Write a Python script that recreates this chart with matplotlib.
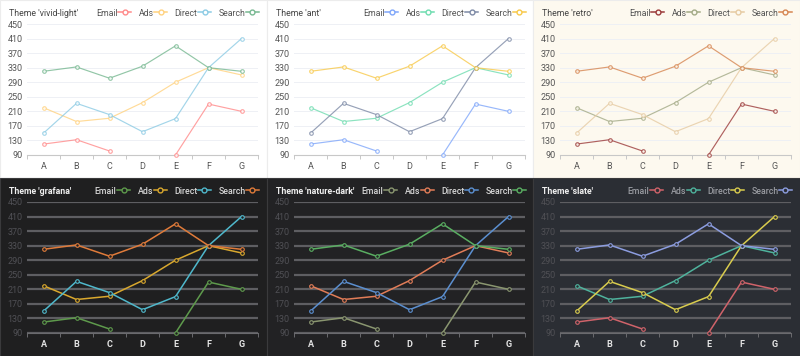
import numpy as np
import matplotlib
matplotlib.use("Agg")
import matplotlib.pyplot as plt
from matplotlib.patches import Rectangle

plt.rcParams['font.family'] = ['Roboto', 'DejaVu Sans']

categories = ['A', 'B', 'C', 'D', 'E', 'F', 'G']
series_names = ['Email', 'Ads', 'Direct', 'Search']
email = [120, 132, 101, np.nan, 90, 230, 210]
ads = [220, 182, 191, 234, 290, 330, 310]
direct = [150, 232, 201, 154, 190, 330, 410]
search = [320, 332, 301, 334, 390, 330, 320]
yticks = [90, 130, 170, 210, 250, 290, 330, 370, 410, 450]

themes = [
    dict(name='vivid-light', bg='#ffffff', dark=False,
         colors=['#ff8a8a', '#ffd27f', '#8ccbe4', '#77b891']),
    dict(name='ant', bg='#ffffff', dark=False,
         colors=['#7fa6fa', '#6fdcb0', '#7d8aa6', '#f8c94a']),
    dict(name='retro', bg='#fdf9ef', dark=False,
         colors=['#9c3b3b', '#a3aa86', '#e6cba3', '#d68652']),
    dict(name='grafana', bg='#1f1f20', dark=True,
         colors=['#5e9a4c', '#d9a82e', '#4fb8cc', '#e07b3a']),
    dict(name='nature-dark', bg='#222224', dark=True,
         colors=['#8a9670', '#e27d58', '#5b8fd0', '#5aae62']),
    dict(name='slate', bg='#2b2e34', dark=True,
         colors=['#d0636a', '#4fb39d', '#d9cc4e', '#8c9de0']),
]

W, H = 800, 356
fig = plt.figure(figsize=(W / 100, H / 100), dpi=100)

col_x = [0, 267, 533]
col_w = [267, 266, 267]
row_y = [0, 178]

data = [email, ads, direct, search]
x = np.arange(len(categories))

for i, th in enumerate(themes):
    r, c = divmod(i, 3)
    px, py = col_x[c], row_y[r]
    dark = th['dark']
    # panel background
    fig.patches.append(Rectangle((px / W, 1 - (py + 178) / H), col_w[c] / W, 178 / H,
                                 transform=fig.transFigure, facecolor=th['bg'],
                                 edgecolor='#3a3a3c' if dark else '#ececec', linewidth=0.8, zorder=-5))
    ax = fig.add_axes([(px + 27) / W, 1 - (py + 155) / H, 231 / W, 131 / H])
    ax.set_facecolor('none')
    for j, vals in enumerate(data):
        col = th['colors'][j]
        ax.plot(x, vals, color=col, lw=1.1 if dark else 0.85, alpha=1 if dark else 0.8,
                marker='o', ms=2.6, mfc=th['bg'], mec=col, mew=0.8, label=series_names[j],
                clip_on=False, zorder=3)
    ax.set_xlim(-0.5, len(categories) - 0.5)
    ax.set_ylim(90, 450)
    ax.set_yticks(yticks)
    ax.set_xticks(x)
    ax.set_xticklabels(categories)
    ax.set_xticks(np.arange(-0.5, len(categories), 1.0), minor=True)
    grid_col = '#5e5e62' if dark else '#eef0f5'
    ax.grid(axis='y', color=grid_col, lw=1.6 if dark else 0.7, zorder=0)
    ax.set_axisbelow(True)
    for s in ['top', 'right', 'left']:
        ax.spines[s].set_visible(False)
    axis_col = '#6a6a6e' if dark else '#c8c8c8'
    ax.spines['bottom'].set_color(axis_col)
    ax.spines['bottom'].set_linewidth(0.8)
    ytxt = '#505055' if dark else '#555555'
    xtxt = '#e4e4e4' if dark else '#555555'
    ax.tick_params(axis='y', length=0, labelsize=6.5, labelcolor=ytxt, pad=3)
    ax.tick_params(axis='x', which='major', length=0, labelsize=6.5, labelcolor=xtxt, pad=5)
    ax.tick_params(axis='x', which='minor', length=3, color=axis_col, width=0.7)
    if dark:
        for lab in ax.get_xticklabels():
            lab.set_fontweight('bold')
    # title
    fig.text((px + 9) / W, 1 - (py + 13) / H, "Theme '%s'" % th['name'],
             fontsize=6.3, color='#f0f0f0' if dark else '#444444',
             fontweight='bold' if dark else 'normal', va='center', ha='left')
    leg_txt = '#9a9ca2' if th['name'] == 'slate' else ('#d8d8d8' if dark else '#555555')
    leg = ax.legend(loc='center right', bbox_to_anchor=((px + 259) / W, 1 - (py + 13) / H),
                    bbox_transform=fig.transFigure, ncol=4, frameon=False, markerfirst=False,
                    fontsize=6.3, handlelength=1.5, handletextpad=0.05, columnspacing=0.85,
                    borderpad=0, borderaxespad=0)
    for t in leg.get_texts():
        t.set_color(leg_txt)
        if dark:
            t.set_fontweight('medium')
    for h in leg.get_lines():
        h.set_markersize(3.5)
        h.set_markeredgewidth(1.0)
        h.set_linewidth(1.1)
        h.set_alpha(1)

fig.savefig('out.png', dpi=100)
